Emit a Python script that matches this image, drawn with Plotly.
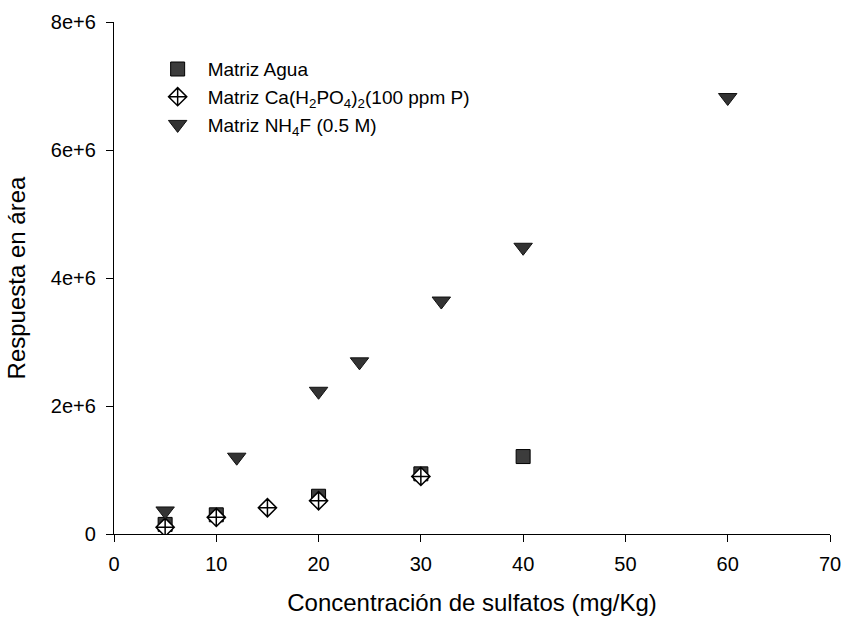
import plotly.graph_objects as go

# Data
x_agua = [5, 10, 20, 30, 40]
y_agua = [0.15e6, 0.30e6, 0.59e6, 0.94e6, 1.21e6]

x_ca = [5, 10, 15, 20, 30]
y_ca = [0.105e6, 0.26e6, 0.41e6, 0.52e6, 0.90e6]

x_nh4f = [5, 12, 20, 24, 32, 40, 60]
y_nh4f = [0.36e6, 1.20e6, 2.23e6, 2.69e6, 3.64e6, 4.48e6, 6.82e6]

names = ["Matriz Agua",
         "Matriz Ca(H<sub>2</sub>PO<sub>4</sub>)<sub>2</sub>(100 ppm P)",
         "Matriz NH<sub>4</sub>F (0.5 M)"]

x_ticks = [0, 10, 20, 30, 40, 50, 60, 70]
y_ticks = [0, 2e6, 4e6, 6e6, 8e6]
y_ticktext = ["0", "2e+6", "4e+6", "6e+6", "8e+6"]

FONT = "Arial, Liberation Sans, sans-serif"

fig = go.Figure()
fig.add_trace(go.Scatter(
    x=x_agua, y=y_agua, mode="markers", name=names[0],
    marker=dict(symbol="square", size=14, color="#3c3c3c",
                line=dict(color="#000000", width=1))))
fig.add_trace(go.Scatter(
    x=x_ca, y=y_ca, mode="markers", name=names[1],
    marker=dict(symbol="diamond-cross", size=14, color="#ffffff",
                line=dict(color="#000000", width=1.5))))
fig.add_trace(go.Scatter(
    x=x_nh4f, y=y_nh4f, mode="markers", name=names[2],
    marker=dict(symbol="triangle-down", size=16, color="#333333",
                line=dict(color="#111111", width=1))))

fig.update_layout(
    width=844, height=620,
    margin=dict(l=114, r=14, t=22, b=86, autoexpand=False),
    paper_bgcolor="white", plot_bgcolor="white",
    font=dict(family=FONT, size=20, color="#000000"),
    showlegend=True,
    legend=dict(x=0.047, y=0.945, xanchor="left", yanchor="top",
                bgcolor="rgba(0,0,0,0)", font=dict(size=19),
                itemwidth=50, tracegroupgap=0),
    xaxis=dict(
        range=[0, 70], tickvals=x_ticks, showgrid=False, zeroline=False,
        showline=True, linecolor="black", linewidth=1.3,
        ticks="outside", ticklen=7, tickwidth=1.3, tickcolor="black",
        tickfont=dict(size=20), ticklabelstandoff=5,
        title=dict(text="Concentración de sulfatos (mg/Kg)",
                   font=dict(size=24), standoff=20)),
    yaxis=dict(
        range=[0, 8e6], tickvals=y_ticks, ticktext=y_ticktext,
        showgrid=False, zeroline=False,
        showline=True, linecolor="black", linewidth=1.3,
        ticks="outside", ticklen=7, tickwidth=1.3, tickcolor="black",
        tickfont=dict(size=20), ticklabelstandoff=6,
        title=dict(text="Respuesta en área", font=dict(size=24),
                   standoff=18)),
)

fig.write_html("out.html")
